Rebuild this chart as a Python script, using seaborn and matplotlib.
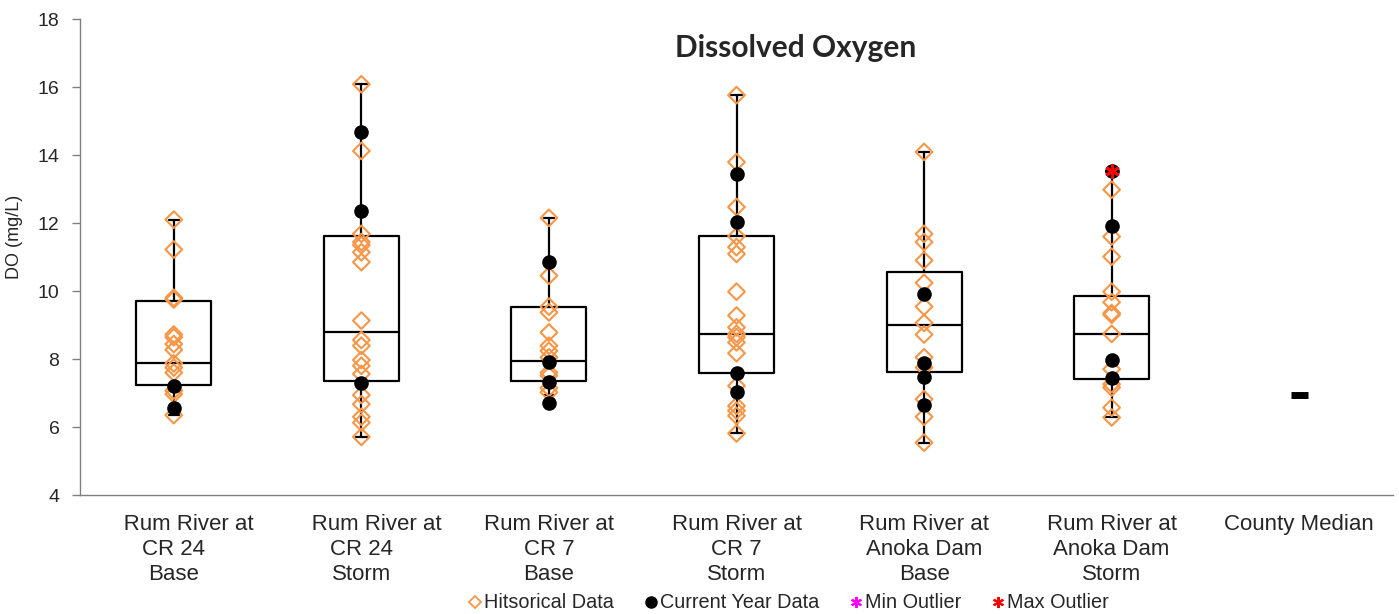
import matplotlib
matplotlib.use("Agg")
import matplotlib.pyplot as plt
from matplotlib.lines import Line2D
import seaborn as sns
import pandas as pd

# ---------------- data ----------------
sites = ["Rum River at\nCR 24\nBase", "Rum River at\nCR 24\nStorm",
         "Rum River at\nCR 7\nBase", "Rum River at\nCR 7\nStorm",
         "Rum River at\nAnoka Dam\nBase", "Rum River at\nAnoka Dam\nStorm",
         "County Median"]
tick_labels = ["     Rum River at\nCR 24\nBase", "     Rum River at\nCR 24\nStorm",
               "Rum River at\nCR 7\nBase", "Rum River at\nCR 7\nStorm",
               "Rum River at\nAnoka Dam\nBase", "Rum River at\nAnoka Dam\nStorm",
               "County Median"]

hist_cr24_base = [12.10, 11.22, 9.80, 9.75, 8.72, 8.64, 8.44, 8.27, 7.87, 7.75, 7.60, 7.07, 6.97, 6.35]
hist_cr24_storm = [16.08, 14.12, 11.68, 11.44, 11.35, 11.14, 10.85, 9.13, 8.56, 8.39, 7.97, 7.80,
                   7.56, 6.94, 6.67, 6.30, 6.13, 5.71]
hist_cr7_base = [12.15, 10.45, 9.54, 9.37, 8.78, 8.39, 8.24, 8.05, 7.60, 7.51, 7.15, 7.02]
hist_cr7_storm = [15.76, 13.79, 12.47, 11.61, 11.29, 11.09, 9.98, 9.28, 8.93, 8.74, 8.64, 8.49,
                  8.17, 7.21, 6.62, 6.48, 6.33, 5.81]
hist_anoka_base = [14.09, 11.68, 11.44, 10.90, 10.24, 9.54, 9.06, 8.72, 8.05, 7.75, 6.82, 6.30, 5.54]
hist_anoka_storm = [12.98, 11.60, 11.01, 9.98, 9.67, 9.35, 9.30, 8.74, 7.70, 7.26, 7.16, 6.57, 6.28]

cur_cr24_base = [7.21, 6.57]
cur_cr24_storm = [14.68, 12.34, 7.28]
cur_cr7_base = [10.85, 7.92, 7.31, 6.72]
cur_cr7_storm = [13.45, 12.03, 7.60, 7.04]
cur_anoka_base = [9.91, 7.88, 7.46, 6.65]
cur_anoka_storm = [13.53, 11.90, 7.97, 7.43]

max_outlier_site = ["Rum River at\nAnoka Dam\nStorm"]
max_outlier_val = [13.53]

box_q1 = [7.24, 7.34, 7.34, 7.59, 7.61, 7.41]
box_med = [7.87, 8.78, 7.95, 8.74, 9.00, 8.74]
box_q3 = [9.72, 11.61, 9.52, 11.61, 10.55, 9.84]
box_lo = [6.35, 5.71, 6.95, 5.81, 5.54, 6.28]
box_hi = [12.10, 16.08, 12.15, 15.76, 14.09, 13.53]

county_median = 6.95

# ---------------- build tables ----------------
hist_lists = [hist_cr24_base, hist_cr24_storm, hist_cr7_base, hist_cr7_storm,
              hist_anoka_base, hist_anoka_storm]
cur_lists = [cur_cr24_base, cur_cr24_storm, cur_cr7_base, cur_cr7_storm,
             cur_anoka_base, cur_anoka_storm]
hist_df = pd.DataFrame([(sites[i], v) for i, l in enumerate(hist_lists) for v in l],
                       columns=["site", "DO"])
cur_df = pd.DataFrame([(sites[i], v) for i, l in enumerate(cur_lists) for v in l],
                      columns=["site", "DO"])
out_df = pd.DataFrame({"site": max_outlier_site, "DO": max_outlier_val})

ORANGE = "#F79646"
FONT = "Liberation Sans"

sns.set_style("white")
plt.rcParams["font.family"] = [FONT, "DejaVu Sans"]

fig = plt.figure(figsize=(13.99, 6.14), dpi=100)
ax = fig.add_axes([80 / 1399, 1 - 495 / 614, 1313 / 1399, 476 / 614])

# boxes
stats = []
for i in range(6):
    stats.append(dict(med=box_med[i], q1=box_q1[i], q3=box_q3[i],
                      whislo=box_lo[i], whishi=box_hi[i], fliers=[]))
ax.bxp(stats, positions=list(range(6)), widths=0.4, showfliers=False,
       capwidths=0.055,
       boxprops=dict(color="black", linewidth=1.6),
       medianprops=dict(color="black", linewidth=1.6),
       whiskerprops=dict(color="black", linewidth=1.6),
       capprops=dict(color="black", linewidth=1.6),
       manage_ticks=False, zorder=1)

# points
sns.stripplot(data=hist_df, x="site", y="DO", order=sites, jitter=False, ax=ax,
              marker="D", s=8.5, facecolors="none", edgecolor=ORANGE,
              linewidth=1.5, color=ORANGE, zorder=3)
sns.stripplot(data=cur_df, x="site", y="DO", order=sites, jitter=False, ax=ax,
              marker="o", s=10.5, color="black", linewidth=0, zorder=4)
sns.stripplot(data=out_df, x="site", y="DO", order=sites, jitter=False, ax=ax,
              marker=(6, 2, 0), s=9, color="red", edgecolor="red",
              linewidth=2, zorder=5)

# county median
ax.hlines(county_median, 6 - 0.045, 6 + 0.045, color="black", linewidth=5, zorder=4)

# axes
ax.set_xlim(-0.5, 6.5)
ax.set_ylim(4, 18)
ax.set_yticks(range(4, 19, 2))
ax.set_xticks(range(7))
ax.set_xticklabels(tick_labels, fontsize=16, linespacing=1.25)
ax.set_xticks([i + 0.5 for i in range(-1, 7)], minor=True)
ax.tick_params(axis="x", which="major", length=0, pad=14)
ax.tick_params(axis="x", which="minor", length=5, width=1, color="#7f7f7f", direction="out")
ax.tick_params(axis="y", which="major", length=5.8, width=1, color="#7f7f7f",
               direction="out", labelsize=14, pad=9, left=True)
for s in ["top", "right"]:
    ax.spines[s].set_visible(False)
for s in ["left", "bottom"]:
    ax.spines[s].set_color("#7f7f7f")
    ax.spines[s].set_linewidth(1)
ax.set_xlabel("")
ax.set_ylabel("DO (mg/L)", fontsize=13)
ax.yaxis.set_label_coords(-0.0434, 0.542)

fig.text(796 / 1399, 1 - 48 / 614, "Dissolved Oxygen", fontsize=21.5, fontweight="bold",
         family=["Lato", "DejaVu Sans"], ha="center", va="center")

handles = [
    Line2D([], [], linestyle="none", marker="D", markersize=6, markerfacecolor="none",
           markeredgecolor=ORANGE, markeredgewidth=1.3),
    Line2D([], [], linestyle="none", marker="o", markersize=8, color="black"),
    Line2D([], [], linestyle="none", marker=(6, 2, 0), markersize=8, color="magenta",
           markeredgewidth=1.5),
    Line2D([], [], linestyle="none", marker=(6, 2, 0), markersize=8, color="red",
           markeredgewidth=1.5),
]
labels = ["Hitsorical Data", "Current Year Data", "Min Outlier", "Max Outlier"]
fig.legend(handles, labels, loc="center", bbox_to_anchor=(789 / 1399, 1 - 603 / 614),
           ncol=4, frameon=False, fontsize=14.3, handlelength=0.6, handletextpad=0.15,
           columnspacing=1.55, borderpad=0)

fig.savefig("out.png", dpi=100)
